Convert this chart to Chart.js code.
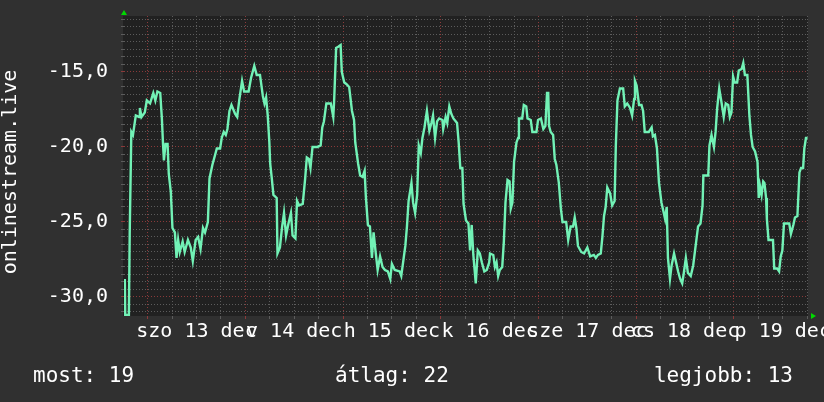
<!DOCTYPE html>
<html>
<head>
<meta charset="utf-8">
<title>onlinestream.live</title>
<script src="https://cdn.jsdelivr.net/npm/chart.js@4.4.1/dist/chart.umd.min.js"></script>
<style>
    html, body { margin: 0; padding: 0; background: #303030; }
    canvas { display: block; }
</style>
</head>
<body>
<canvas id="myChartTemp" width="824" height="402"></canvas>
<script>

//! Les données.

// heures depuis szo 13 dec 00:00
const heures = [
    -5.6, -5.5, -4.6, -4.4, -4.0, -3.6, -2.9, -2.1, -1.9, -1.5,
    -0.7, -0.2, 0.6, 1.4, 1.9, 2.4, 3.1, 3.5, 3.8, 4.0,
    4.4, 4.9, 5.2, 5.7, 6.1, 6.7, 7.1, 7.5, 7.9, 8.6,
    9.1, 9.9, 10.6, 11.1, 11.8, 12.4, 13.0, 13.6, 14.1, 14.8,
    15.2, 15.9, 16.5, 17.0, 17.8, 18.2, 18.7, 19.2, 19.6, 20.1,
    20.6, 21.5, 22.0, 22.5, 23.2, 23.7, 24.8, 25.4, 26.2, 26.8,
    27.6, 28.3, 28.7, 29.1, 29.5, 29.9, 30.1, 30.5, 30.9, 31.7,
    31.9, 32.5, 33.0, 33.5, 34.0, 34.6, 35.2, 35.6, 36.3, 36.7,
    37.2, 38.1, 38.7, 39.1, 39.6, 40.0, 40.5, 41.7, 42.5, 42.9,
    43.3, 43.9, 45.0, 45.6, 45.8, 46.3, 46.9, 47.4, 47.7, 48.3,
    48.8, 49.5, 50.2, 50.7, 51.0, 51.7, 52.2, 52.8, 53.3, 53.6,
    54.1, 54.6, 55.1, 55.5, 56.0, 56.5, 57.1, 57.7, 58.3, 59.0,
    59.6, 60.0, 60.7, 61.9, 62.3, 62.9, 63.3, 63.7, 64.1, 64.8,
    65.2, 65.7, 66.2, 66.6, 67.1, 67.5, 68.0, 68.6, 69.2, 69.7,
    70.1, 70.6, 71.1, 71.6, 72.4, 72.6, 73.2, 73.6, 74.1, 74.6,
    75.1, 76.0, 76.4, 76.8, 77.3, 77.6, 78.2, 78.8, 79.2, 79.6,
    80.0, 80.6, 81.1, 81.6, 82.1, 82.7, 83.3, 83.9, 84.1, 84.9,
    85.3, 85.7, 86.1, 86.5, 87.1, 87.5, 87.9, 88.4, 88.9, 89.2,
    89.6, 90.0, 90.6, 91.0, 91.2, 92.0, 92.4, 93.0, 93.3, 94.1,
    94.5, 95.5, 95.9, 96.6, 97.2, 97.7, 98.1, 98.4, 98.6, 99.0,
    99.6, 100.0, 100.4, 101.0, 101.5, 101.9, 102.8, 103.3, 103.9, 104.5,
    104.9, 105.3, 105.7, 106.5, 107.2, 108.0, 108.7, 109.6, 110.1, 110.6,
    111.3, 111.7, 112.1, 112.5, 112.9, 113.6, 114.1, 114.7, 115.0, 115.4,
    116.0, 116.8, 117.2, 117.8, 118.5, 119.0, 119.5, 119.7, 120.1, 120.7,
    121.3, 121.7, 122.1, 123.1, 123.8, 124.1, 124.6, 125.1, 125.6, 126.2,
    126.7, 127.1, 127.5, 127.8, 128.3, 128.7, 129.3, 129.8, 130.3, 130.8,
    131.3, 131.7, 132.2, 132.7, 133.4, 134.0, 134.6, 135.2, 135.8, 136.3,
    136.5, 137.7, 138.0, 138.5, 139.1, 139.5, 139.9, 140.4, 141.0, 141.5,
    142.0, 142.6, 143.0, 143.4, 143.8, 144.2, 144.8, 145.2, 145.9, 146.3,
    146.7, 147.3, 147.8, 148.2, 148.6, 149.2, 149.8, 150.1, 150.4, 150.8,
    151.2, 151.5, 151.9, 152.1, 152.5, 153.6, 153.9, 154.6, 155.1, 155.5,
    155.9, 156.3, 157.6, 158.0, 158.6, 159.0, 159.6, 160.1, 160.5, 161.0,
    161.3, 161.7, 162.1,
];

const temperatures = [
    -28.8, -31.2, -31.2, -25.8, -19.0, -19.2, -17.9, -18.0, -17.4, -18.0,
    -17.7, -16.9, -17.1, -16.4, -16.9, -16.3, -16.4, -18.1, -19.9, -20.9,
    -19.8, -19.8, -21.8, -23.0, -25.4, -25.7, -27.4, -26.2, -27.0, -26.3,
    -27.0, -26.2, -26.7, -27.6, -26.2, -26.0, -26.8, -25.4, -25.7, -25.0,
    -22.1, -21.2, -20.6, -20.1, -20.1, -19.4, -19.0, -19.2, -18.8, -17.6,
    -17.2, -17.8, -18.0, -16.9, -15.6, -16.3, -16.3, -15.4, -14.6, -15.2,
    -15.2, -16.6, -17.1, -16.7, -17.9, -19.7, -21.1, -22.1, -23.2, -23.4,
    -27.1, -26.7, -25.4, -24.4, -25.9, -25.1, -24.4, -25.9, -26.1, -23.6,
    -23.9, -23.8, -22.1, -20.7, -20.8, -21.4, -20.0, -20.0, -19.9, -18.7,
    -18.3, -17.1, -17.1, -18.0, -17.0, -13.4, -13.3, -13.2, -15.0, -15.7,
    -15.8, -16.0, -17.6, -18.2, -19.7, -21.1, -21.9, -22.0, -21.6, -23.3,
    -25.2, -25.3, -27.4, -25.7, -27.0, -28.2, -27.3, -28.0, -28.2, -28.3,
    -28.8, -27.8, -28.2, -28.3, -28.6, -27.4, -26.6, -25.3, -23.6, -22.4,
    -23.7, -24.4, -23.2, -19.9, -20.4, -19.4, -18.7, -17.6, -18.9, -18.4,
    -17.9, -19.4, -18.3, -18.1, -18.2, -18.8, -18.0, -18.4, -17.3, -17.8,
    -18.1, -18.4, -19.7, -21.4, -21.4, -23.8, -24.9, -25.1, -26.9, -25.2,
    -27.2, -29.1, -26.9, -27.1, -27.7, -28.3, -28.2, -27.7, -27.1, -27.2,
    -28.0, -27.7, -28.6, -28.2, -28.0, -26.3, -23.7, -22.2, -22.3, -24.1,
    -23.7, -21.0, -19.7, -19.4, -18.1, -18.1, -17.2, -17.3, -18.1, -18.2,
    -19.0, -19.0, -18.2, -18.1, -18.8, -18.6, -16.4, -16.4, -18.6, -19.0,
    -19.2, -20.8, -21.2, -22.4, -24.1, -25.0, -25.0, -26.2, -25.3, -25.3,
    -24.7, -25.4, -26.6, -27.0, -27.1, -26.7, -27.3, -27.2, -27.4, -27.2,
    -27.1, -26.0, -24.6, -24.0, -22.7, -23.1, -23.9, -23.6, -19.9, -16.9,
    -16.1, -16.1, -17.3, -17.1, -17.4, -17.9, -16.8, -15.6, -15.9, -17.2,
    -17.2, -17.6, -19.0, -19.0, -18.7, -19.3, -19.2, -20.1, -22.4, -23.7,
    -24.3, -24.8, -24.0, -27.4, -28.8, -27.9, -27.1, -27.7, -28.3, -28.8,
    -29.1, -28.4, -27.4, -28.4, -28.6, -27.9, -26.6, -25.3, -25.1, -23.9,
    -21.9, -21.9, -19.9, -19.2, -20.0, -19.0, -17.4, -16.1, -17.1, -18.0,
    -17.1, -17.2, -18.0, -17.7, -15.3, -15.7, -15.7, -14.9, -14.8, -14.4,
    -15.2, -15.2, -17.9, -19.2, -20.0, -20.3, -21.0, -23.4, -22.6, -23.2,
    -22.3, -22.4, -23.4, -24.8, -26.2, -26.2, -28.1, -28.1, -28.3, -27.3,
    -26.9, -25.1, -25.1, -25.8, -25.2, -24.7, -24.6, -21.7, -21.4, -21.4,
    -20.1, -19.4, -19.4,
];

// étiquettes des jours, placées à midi
const etiquettesJours = ['szo 13 dec', 'v 14 dec', 'h 15 dec', 'k 16 dec', 'sze 17 dec', 'cs 18 dec', 'p 19 dec'];
const etiquettesY = [-30, -25, -20, -15];
const legende = ['most: 19', 'átlag: 22', 'legjobb: 13'];
const titreAxe = 'onlinestream.live';

//! --------------------------------------------------

//! Les constantes.

const xMin = -5.8;
const xMax = 162.2;
const yMin = -31.27;
const yMax = -11.27;

const police = 'DejaVu Sans Mono';
const couleurFond = '#303030';
const couleurZone = '#212121';
const couleurGrille = '#5c5c5c';
const couleurGrilleMajeure = '#8a3a3a';
const couleurCourbe = '#72f2b6';
const couleurFleche = '#00d800';

//! --------------------------------------------------

//? Plugin fond + décor.

const pluginFond = {
    id: 'fond',
    beforeDraw: (chart) => {
        const { ctx, chartArea } = chart;
        ctx.save();
        ctx.fillStyle = couleurFond;
        ctx.fillRect(0, 0, chart.width, chart.height);
        ctx.fillStyle = couleurZone;
        ctx.fillRect(chartArea.left - 1, chartArea.top, chartArea.right - chartArea.left + 1, chartArea.bottom - chartArea.top);
        ctx.restore();
    },
};

const pluginDecor = {
    id: 'decor',
    afterDraw: (chart) => {
        const { ctx, chartArea } = chart;
        ctx.save();

        // flèches vertes
        ctx.fillStyle = couleurFleche;
        ctx.beginPath();
        ctx.moveTo(chartArea.left - 3, chartArea.top - 1);
        ctx.lineTo(chartArea.left + 3, chartArea.top - 1);
        ctx.lineTo(chartArea.left, chartArea.top - 6);
        ctx.closePath();
        ctx.fill();

        ctx.beginPath();
        ctx.moveTo(chartArea.right + 3, chartArea.bottom - 3);
        ctx.lineTo(chartArea.right + 3, chartArea.bottom + 3);
        ctx.lineTo(chartArea.right + 8, chartArea.bottom);
        ctx.closePath();
        ctx.fill();

        // titre vertical
        ctx.fillStyle = '#ffffff';
        ctx.font = '20px "' + police + '"';
        ctx.translate(11, (chartArea.top + chartArea.bottom) / 2 + 6);
        ctx.rotate(-Math.PI / 2);
        ctx.textAlign = 'center';
        ctx.textBaseline = 'middle';
        ctx.fillText(titreAxe, 0, 0);
        ctx.restore();

        // légende du bas
        ctx.save();
        ctx.fillStyle = '#ffffff';
        ctx.font = '21px "' + police + '"';
        ctx.textBaseline = 'alphabetic';
        ctx.textAlign = 'left';
        ctx.fillText(legende[0], 33, 382);
        ctx.fillText(legende[1], 335, 382);
        ctx.textAlign = 'right';
        ctx.fillText(legende[2], 793, 382);
        ctx.restore();
    },
};

//? -------------------------------------------------

//? Construction du graphique.

const points = heures.map((h, i) => ({ x: h, y: temperatures[i] }));

const estMajeureY = (v) => etiquettesY.includes(Math.round(v * 2) / 2);

const ctxTemp = document.getElementById('myChartTemp').getContext('2d');

new Chart(ctxTemp, {
    type: 'line',
    data: {
        datasets: [
            {
                label: titreAxe,
                data: points,
                borderColor: couleurCourbe,
                borderWidth: 2.4,
                pointRadius: 0,
                tension: 0,
                fill: false,
            },
        ],
    },
    options: {
        responsive: false,
        animation: false,
        events: [],
        layout: { padding: { top: 16, right: 16, left: 0, bottom: 0 } },
        plugins: {
            legend: { display: false },
            tooltip: { enabled: false },
        },
        scales: {
            x: {
                type: 'linear',
                min: xMin,
                max: xMax,
                afterBuildTicks: (scale) => {
                    const ticks = [];
                    for (let h = Math.ceil(xMin / 6) * 6; h <= xMax; h += 6) ticks.push({ value: h });
                    scale.ticks = ticks;
                },
                afterFit: (scale) => {
                    scale.height = 86;
                    scale.paddingLeft = 0;
                    scale.paddingRight = 0;
                },
                grid: {
                    color: (c) => (c.tick && c.tick.value % 24 === 0 ? couleurGrilleMajeure : couleurGrille),
                    lineWidth: 1,
                    tickLength: 3,
                },
                border: { display: false, dash: [1, 2] },
                ticks: {
                    autoSkip: false,
                    maxRotation: 0,
                    padding: 1,
                    color: '#ffffff',
                    font: { family: police, size: 20 },
                    callback: (v) => {
                        const k = (v - 12) / 24;
                        return Number.isInteger(k) && etiquettesJours[k] ? etiquettesJours[k] : '';
                    },
                },
            },
            y: {
                type: 'linear',
                min: yMin,
                max: yMax,
                afterBuildTicks: (scale) => {
                    const ticks = [];
                    for (let k = Math.ceil(yMin * 2); k <= Math.floor(yMax * 2); k++) ticks.push({ value: k / 2 });
                    scale.ticks = ticks;
                },
                afterFit: (scale) => {
                    scale.width = 124;
                    scale.paddingTop = 0;
                    scale.paddingBottom = 0;
                },
                grid: {
                    color: (c) => (c.tick && estMajeureY(c.tick.value) ? couleurGrilleMajeure : couleurGrille),
                    lineWidth: 1,
                    tickLength: 3,
                },
                border: { display: false, dash: [1, 2] },
                ticks: {
                    autoSkip: false,
                    padding: 13,
                    color: '#ffffff',
                    font: { family: police, size: 20 },
                    callback: (v) => (estMajeureY(v) ? v.toFixed(1).replace('.', ',') : ''),
                },
            },
        },
    },
    plugins: [pluginFond, pluginDecor],
});

</script>
</body>
</html>
